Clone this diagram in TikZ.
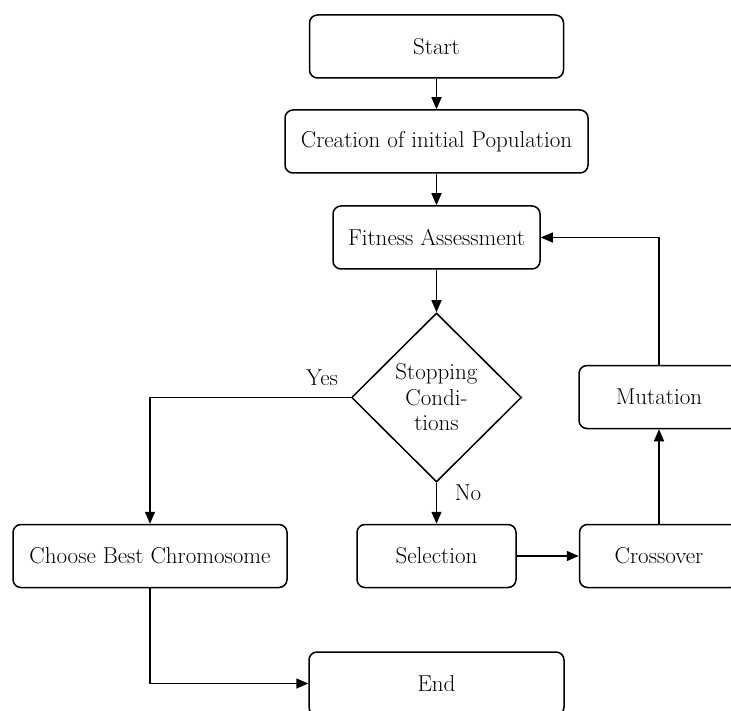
\documentclass[tikz,border=0pt]{standalone}
\usetikzlibrary{shapes.geometric,arrows.meta}

\begin{document}
\begin{tikzpicture}[x=1pt,y=-1pt,
  every node/.style={font=\fontsize{23}{25.5}\selectfont},
  stepbox/.style={draw,line width=1.5pt,rounded corners=8pt,minimum height=63pt,inner sep=0pt},
  decision/.style={draw,line width=1.5pt,shape=diamond,inner sep=0pt,minimum width=170pt,minimum height=169pt},
  flow/.style={line width=1.5pt,-{Triangle[length=12pt,width=10pt]}},
  lbl/.style={inner sep=0pt}
]
\useasboundingbox (0,0) rectangle (731,711);

% process boxes
\node[stepbox,minimum width=254pt] (start)    at (436.5,46.5)  {Start};
\node[stepbox,minimum width=303pt] (creation) at (436.5,141.5) {Creation of initial Population};
\node[stepbox,minimum width=207pt] (fitness)  at (436.5,237.5) {Fitness Assessment};
\node[decision] (cond) at (436.5,397.5) {};
\node[align=center,lbl] (condtext) at (cond) {Stopping\\Condi-\\tions};
\node[stepbox,minimum width=160pt] (mutation)  at (659,397)   {Mutation};
\node[stepbox,minimum width=274pt] (choose)    at (150,556)   {Choose Best Chromosome};
\node[stepbox,minimum width=159pt] (selection) at (436.5,556) {Selection};
\node[stepbox,minimum width=159pt] (crossover) at (659,556)   {Crossover};
\node[stepbox,minimum width=255pt] (end)       at (436.5,683.5) {End};

% bend points
\coordinate (yesbend) at (choose.north |- cond.west);
\coordinate (endbend) at (choose.south |- end.west);
\coordinate (loopbend) at (mutation.north |- fitness.east);

% connectors
\draw[flow] (start) -- (creation);
\draw[flow] (creation) -- (fitness);
\draw[flow] (fitness) -- (cond.north);
\draw[flow] (cond.west) -- (yesbend) -- (choose.north);
\draw[flow] (cond.south) -- (selection.north);
\draw[flow] (selection) -- (crossover);
\draw[flow] (crossover) -- (mutation);
\draw[flow] (mutation.north) -- (loopbend) -- (fitness.east);
\draw[flow] (choose.south) -- (endbend) -- (end.west);

% branch labels
\node[lbl] (yes) at (322,378) {Yes};
\node[lbl] (no)  at (468,493) {No};
\end{tikzpicture}
\end{document}
